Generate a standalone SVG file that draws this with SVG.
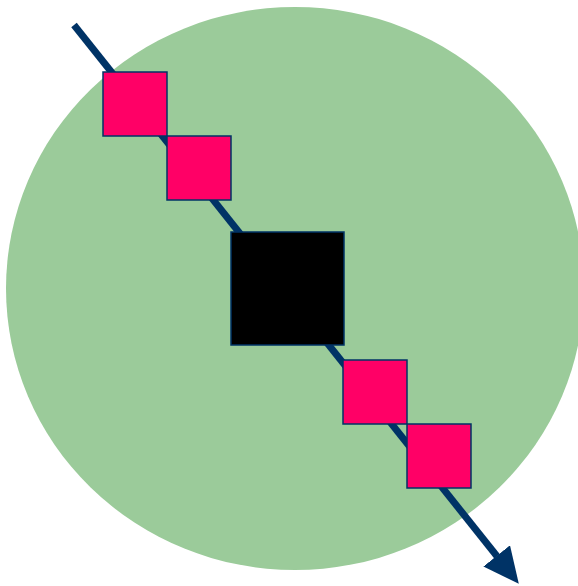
<svg xmlns="http://www.w3.org/2000/svg" width="578" height="586" viewBox="0 0 578 586">
<style>
.pink{fill:#FF0066;stroke:#003366;stroke-width:1.5}
.core{fill:#000000;stroke:#003366;stroke-width:1.5}
.axis{stroke:#003366;stroke-width:7;fill:none}
</style>
<defs>
<marker id="arrow" markerUnits="userSpaceOnUse" viewBox="0 0 36 34" markerWidth="36" markerHeight="34" refX="0.5" refY="17" orient="auto">
<path d="M0,0 L35.5,17 L0,34 z" fill="#003366"/>
</marker>
</defs>
<g id="background">
<ellipse cx="295" cy="288.5" rx="289" ry="281.5" fill="#9BCB9A"/>
</g>
<g id="connectors">
<line class="axis" x1="74" y1="25" x2="497" y2="556.3" marker-end="url(#arrow)"/>
</g>
<g id="square1"><rect class="pink" x="103" y="72" width="64" height="64"/></g>
<g id="square2"><rect class="pink" x="167" y="136" width="64" height="64"/></g>
<g id="center"><rect class="core" x="231" y="232" width="113" height="113"/></g>
<g id="square3"><rect class="pink" x="343" y="360" width="64" height="64"/></g>
<g id="square4"><rect class="pink" x="407" y="424" width="64" height="64"/></g>
</svg>
